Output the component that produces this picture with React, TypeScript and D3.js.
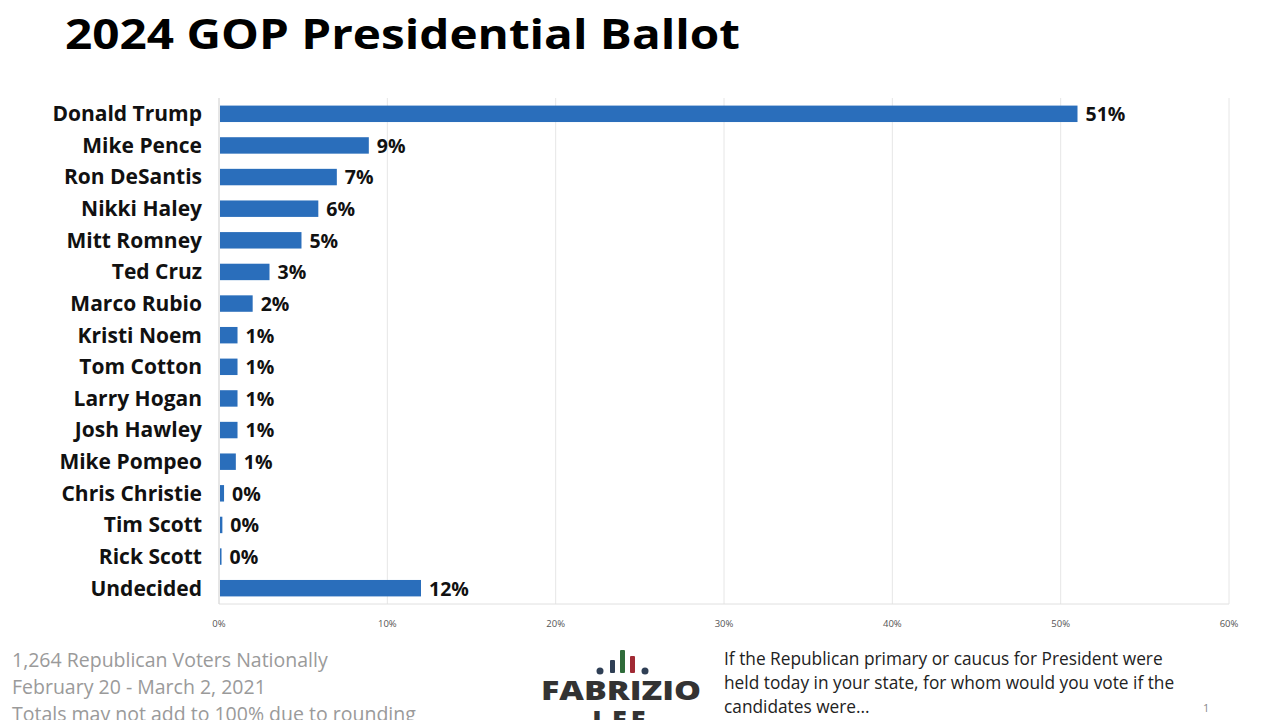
import React from "react";
import * as d3 from "d3";

const candidates = ["Donald Trump","Mike Pence","Ron DeSantis","Nikki Haley","Mitt Romney","Ted Cruz","Marco Rubio","Kristi Noem","Tom Cotton","Larry Hogan","Josh Hawley","Mike Pompeo","Chris Christie","Tim Scott","Rick Scott","Undecided"];
const values = [51, 8.9, 7, 5.9, 4.9, 3, 2, 1.1, 1.1, 1.1, 1.1, 1.0, 0.3, 0.2, 0.15, 12];
const valueLabels = ["51%","9%","7%","6%","5%","3%","2%","1%","1%","1%","1%","1%","0%","0%","0%","12%"];
const ticks = [0, 10, 20, 30, 40, 50, 60];
const footLeft = ["1,264 Republican Voters Nationally", "February 20 - March 2, 2021", "Totals may not add to 100% due to rounding"];
const footRight = ["If the Republican primary or caucus for President were", "held today in your state, for whom would you vote if the", "candidates were..."];

export default function App() {
  const W = 1279, H = 720;
  const x = d3.scaleLinear().domain([0, 60]).range([219, 1229]);
  const y = d3.scaleBand().domain(candidates).range([98, 604]).paddingInner(0.48).paddingOuter(0.24);
  const font = "'Open Sans', 'Liberation Sans', sans-serif";
  return (
    <svg width={W} height={H} style={{ position: "absolute", left: 0, top: 0, background: "#fff" }} fontFamily={font}>
      <rect width={W} height={H} fill="#fff" />
      <text x={65} y={49} fontSize={42} fontWeight={700} fill="#000" textLength={675} lengthAdjust="spacingAndGlyphs">2024 GOP Presidential Ballot</text>
      {ticks.map(t => (
        <line key={t} x1={x(t)} x2={x(t)} y1={98} y2={604} stroke="#e6e6e6" strokeWidth={1} />
      ))}
      <line x1={219} x2={1229} y1={604} y2={604} stroke="#e0e0e0" />
      <line x1={219} x2={219} y1={98} y2={604} stroke="#d9d9d9" />
      {ticks.map(t => (
        <text key={"t" + t} x={x(t)} y={627} fontSize={9.5} fill="#555" textAnchor="middle">{t}%</text>
      ))}
      {candidates.map((c, i) => {
        const yy = y(c)!;
        const bw = y.bandwidth();
        return (
          <g key={c}>
            <rect x={x(0) + 1} y={yy} width={x(values[i]) - x(0) - 1} height={bw} fill="#2a6ebb" />
            <text x={202} y={yy + bw / 2} dy="0.35em" fontSize={21} fontWeight={700} textAnchor="end" fill="#111">{c}</text>
            <text x={x(values[i]) + 8} y={yy + bw / 2} dy="0.38em" fontSize={19.5} fontWeight={700} fill="#111">{valueLabels[i]}</text>
          </g>
        );
      })}
      {footLeft.map((t, i) => (
        <text key={t} x={12} y={667 + i * 27} fontSize={19.5} fill="#9a9a9a">{t}</text>
      ))}
      {footRight.map((t, i) => (
        <text key={t} x={724} y={665 + i * 24} fontSize={17.3} fill="#222">{t}</text>
      ))}
      <text x={1203} y={712} fontSize={11} fill="#888">1</text>
      <g>
        {[[610, 660, "#2f3f55"], [620, 650, "#2f6c3a"], [630, 656, "#a12a34"]].map((d, i) => (
          <rect key={i} x={d[0] as number} y={d[1] as number} width={5} height={673 - (d[1] as number)} fill={d[2] as string} rx={1} />
        ))}
        <circle cx={600} cy={671} r={3.5} fill="#2f3f55" />
        <circle cx={645} cy={671} r={3.5} fill="#2f3f55" />
        <text x={621} y={700} fontSize={27} fontWeight={800} textAnchor="middle" fill="#333" textLength={160} lengthAdjust="spacingAndGlyphs">FABRIZIO</text>
        <text x={621} y={730} fontSize={27} fontWeight={800} textAnchor="middle" fill="#333" letterSpacing={4}>LEE</text>
      </g>
    </svg>
  );
}
